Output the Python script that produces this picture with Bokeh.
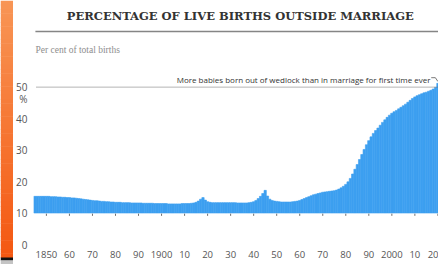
from bokeh.plotting import figure
from bokeh.layouts import row, column
from bokeh.models import Range1d, FixedTicker
from bokeh.core.properties import value
from bokeh.embed import file_html
from bokeh.resources import INLINE

# ---------------- data ----------------
title = "PERCENTAGE OF LIVE BIRTHS OUTSIDE MARRIAGE"
subtitle = "Per cent of total births"
annotation = "More babies born out of wedlock than in marriage for first time ever"

years = list(range(1845, 2021))
pct = [
    15.3, 15.3, 15.3, 15.3, 15.3,                                  # 1845-49
    15.3, 15.3, 15.2, 15.2, 15.2, 15.1, 15.1, 15.0, 15.0, 14.9,    # 1850s
    14.9, 14.8, 14.8, 14.7, 14.6, 14.5, 14.4, 14.3, 14.2, 14.1,    # 1860s
    14.0, 13.9, 13.9, 13.8, 13.7, 13.7, 13.6, 13.6, 13.5, 13.5,    # 1870s
    13.4, 13.4, 13.4, 13.3, 13.3, 13.3, 13.3, 13.2, 13.2, 13.2,    # 1880s
    13.2, 13.2, 13.1, 13.1, 13.1, 13.1, 13.1, 13.0, 13.0, 13.0,    # 1890s
    13.0, 13.0, 13.0, 12.9, 12.9, 12.9, 12.9, 12.9, 12.9, 13.0,    # 1900s
    13.0, 13.0, 13.0, 13.1, 13.2, 13.4, 13.8, 14.4, 14.9, 14.1,    # 1910s
    13.6, 13.4, 13.3, 13.3, 13.3, 13.3, 13.3, 13.3, 13.3, 13.3,    # 1920s
    13.3, 13.3, 13.3, 13.2, 13.2, 13.2, 13.2, 13.2, 13.3, 13.4,    # 1930s
    13.6, 14.0, 14.6, 15.3, 16.2, 17.2, 15.4, 14.4, 14.0, 13.8,    # 1940s
    13.7, 13.6, 13.5, 13.5, 13.5, 13.5, 13.5, 13.6, 13.7, 13.8,    # 1950s
    14.0, 14.3, 14.6, 14.9, 15.2, 15.5, 15.8, 16.0, 16.2, 16.4,    # 1960s
    16.6, 16.7, 16.8, 16.9, 17.0, 17.1, 17.3, 17.6, 18.0, 18.5,    # 1970s
    19.1, 19.9, 21.0, 22.4, 23.9, 25.4, 27.0, 28.6, 30.2, 31.7,    # 1980s
    33.0, 34.2, 35.3, 36.2, 37.0, 37.9, 38.8, 39.6, 40.4, 41.1,    # 1990s
    41.7, 42.2, 42.6, 43.1, 43.6, 44.1, 44.6, 45.2, 45.8, 46.4,    # 2000s
    46.9, 47.3, 47.6, 47.9, 48.2, 48.4, 48.7, 49.0, 49.4, 49.9,    # 2010s
    51.2,                                                          # 2020
]
bar_base = 10

x_ticks = list(range(1850, 2021, 10))
x_labels = ["1850", "60", "70", "80", "90", "1900", "10", "20", "30", "40",
            "50", "60", "70", "80", "90", "2000", "10", "20"]
y_ticks = [0, 10, 20, 30, 40, 50]
y_labels = ["0", "10", "20", "30", "40", "50"]
unit_tick = 46.2
unit_label = "%"
threshold = 50

# ---------------- styles ----------------
BLUE = "#3d9ff0"
SANS = "Open Sans"

# left orange stripe
s = figure(width=13, height=264, x_range=Range1d(0, 13), y_range=Range1d(264, 0),
           x_axis_type=None, y_axis_type=None, min_border=0,
           output_backend="svg", toolbar_location=None)
s.outline_line_color = None
s.grid.visible = False
c0 = (0xF8, 0x95, 0x55)
c1 = (0xF4, 0x58, 0x12)
n = 60
tops, bots, cols = [], [], []
for i in range(n):
    t = i / (n - 1)
    col = "#%02x%02x%02x" % tuple(int(round(a + (b - a) * t)) for a, b in zip(c0, c1))
    tops.append(257 * i / n)
    bots.append(257 * (i + 1) / n + 0.5)
    cols.append(col)
s.quad(left=0, right=13, top=tops, bottom=bots, fill_color=cols, line_color=None)
s.quad(left=0, right=13, top=257, bottom=260, fill_color="#111111", line_color=None)
s.quad(left=0, right=13, top=260, bottom=264, fill_color="#c4c4c4", line_color=None)

# header
h = figure(width=425, height=58, x_range=Range1d(0, 425), y_range=Range1d(58, 0),
           x_axis_type=None, y_axis_type=None, min_border=0,
           output_backend="svg", toolbar_location=None)
h.outline_line_color = None
h.grid.visible = False
h.text(x=[217], y=[15.5], text=[title], text_align="center", text_baseline="alphabetic",
       text_font=value("DejaVu Serif"), text_font_style="bold", text_font_size="11.5px",
       text_color="#333333")
h.line(x=[2, 425], y=[31, 31], line_color="#858585", line_width=1.7)
h.text(x=[2], y=[49], text=[subtitle], text_align="left", text_baseline="alphabetic",
       text_font=value("Liberation Serif"), text_font_size="9.5px", text_color="#8e8e8e")

# main chart
p = figure(width=425, height=206,
           x_range=Range1d(1844.397, 2020.259), y_range=Range1d(0, 59.1),
           min_border_left=17, min_border_right=0, min_border_top=0, min_border_bottom=20,
           output_backend="svg", toolbar_location=None)
p.outline_line_color = None
p.grid.visible = False
p.background_fill_color = "white"
p.border_fill_color = "white"

p.vbar(x=years, top=pct, bottom=bar_base, width=1.0, fill_color=BLUE,
       line_color=BLUE, line_width=0.6)

p.segment(x0=x_ticks, y0=9.1, x1=x_ticks, y1=9.8, line_color="#707070", line_width=1)

p.line(x=[1845.7, 2020.3], y=[threshold, threshold], line_color="#6a6a6a",
       line_dash="1 1", line_width=1)
p.text(x=[2016.8], y=[52.4], text=[annotation], text_align="right", text_baseline="alphabetic",
       text_font=value(SANS), text_font_size="8px", text_color="#333333")
p.line(x=[2017.1, 2018.9, 2020.0], y=[53.0, 53.0, 51.8], line_color="#555555", line_width=0.8)

p.xaxis.ticker = FixedTicker(ticks=x_ticks)
p.xaxis.major_label_overrides = dict(zip(x_ticks, x_labels))
p.yaxis.ticker = FixedTicker(ticks=y_ticks + [unit_tick])
ov = dict(zip(y_ticks, y_labels))
ov[unit_tick] = unit_label
p.yaxis.major_label_overrides = ov

for ax in (p.xaxis, p.yaxis):
    ax.axis_line_color = None
    ax.major_tick_line_color = None
    ax.minor_tick_line_color = None
    ax.major_label_text_font = SANS
    ax.major_label_text_color = "#555555"
p.xaxis.major_label_text_font_size = "9.5px"
p.xaxis.major_label_standoff = 0
p.yaxis.major_label_text_font_size = "10px"
p.yaxis.major_label_standoff = 0

layout = row(s, column(h, p))
open("out.html", "w").write(file_html(layout, INLINE))
